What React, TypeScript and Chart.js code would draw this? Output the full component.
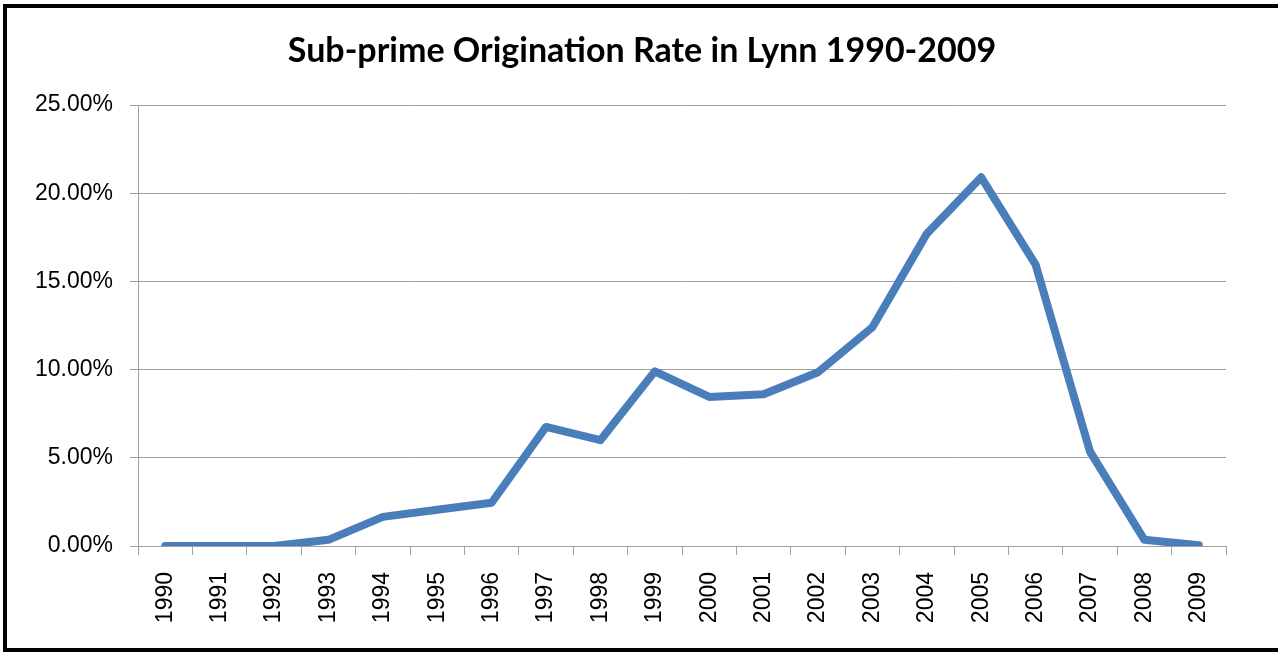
import React, { useEffect, useRef } from "react";
import { Chart, registerables } from "chart.js";

Chart.register(...registerables);

const years = ["1990","1991","1992","1993","1994","1995","1996","1997","1998","1999","2000","2001","2002","2003","2004","2005","2006","2007","2008","2009"];
const rates = [0, 0, 0, 0.35, 1.65, 2.05, 2.45, 6.75, 6.0, 9.9, 8.45, 8.6, 9.85, 12.4, 17.7, 20.9, 15.95, 5.35, 0.35, 0.05];
const yTicks = [0, 5, 10, 15, 20, 25];
const titleText = "Sub-prime Origination Rate in Lynn 1990-2009";

const titlePlugin = {
  id: "centeredTitle",
  afterDraw(chart: any) {
    const ctx = chart.ctx;
    ctx.save();
    ctx.font = "bold 34px Lato";
    ctx.fillStyle = "#000";
    ctx.textAlign = "center";
    ctx.textBaseline = "middle";
    ctx.fillText(titleText, 642, 51);
    ctx.restore();
  },
};

export default function App() {
  const ref = useRef<HTMLCanvasElement>(null);
  useEffect(() => {
    if (!ref.current) return;
    const chart = new Chart(ref.current, {
      type: "line",
      data: {
        labels: years,
        datasets: [
          {
            data: rates,
            borderColor: "#4a7ebb",
            backgroundColor: "#4a7ebb",
            borderWidth: 8,
            pointRadius: 0,
            tension: 0,
            borderJoinStyle: "round",
            borderCapStyle: "round",
          },
        ],
      },
      plugins: [titlePlugin],
      options: {
        animation: false,
        responsive: false,
        maintainAspectRatio: false,
        layout: { padding: { left: 0, right: 52, top: 105, bottom: 0 } },
        plugins: {
          legend: { display: false },
          tooltip: { enabled: false },
          title: { display: false },
        },
        scales: {
          x: {
            offset: true,
            grid: { offset: true, drawOnChartArea: false, drawTicks: true, tickLength: 9, color: "#a0a0a0" },
            border: { display: true, color: "#a0a0a0", width: 1 },
            ticks: {
              color: "#000",
              font: { family: "Liberation Sans", size: 23 },
              minRotation: 90,
              maxRotation: 90,
              autoSkip: false,
              padding: 17,
            },
            afterFit: (s: any) => { s.height = 654 - 546; },
          },
          y: {
            min: 0,
            max: 25,
            afterBuildTicks: (s: any) => { s.ticks = yTicks.map((v) => ({ value: v })); },
            grid: { color: "#a0a0a0", tickLength: 8, lineWidth: 1 },
            border: { display: true, color: "#a0a0a0", width: 1 },
            ticks: {
              color: "#000",
              font: { family: "Liberation Sans", size: 23 },
              padding: 17,
              callback: (v: any) => Number(v).toFixed(2) + "%",
            },
            afterFit: (s: any) => { s.width = 138; },
          },
        },
      },
    });
    return () => chart.destroy();
  }, []);
  return (
    <div style={{ position: "fixed", left: 0, top: 0, width: 1278, height: 654, overflow: "hidden", background: "#fff" }}>
      <canvas ref={ref} width={1278} height={654} style={{ position: "absolute", left: 0, top: 0 }} />
      <div
        style={{
          position: "absolute",
          left: 3,
          top: 4,
          width: 1400,
          height: 640,
          border: "4px solid #000",
          boxSizing: "content-box",
          pointerEvents: "none",
        }}
      />
    </div>
  );
}
